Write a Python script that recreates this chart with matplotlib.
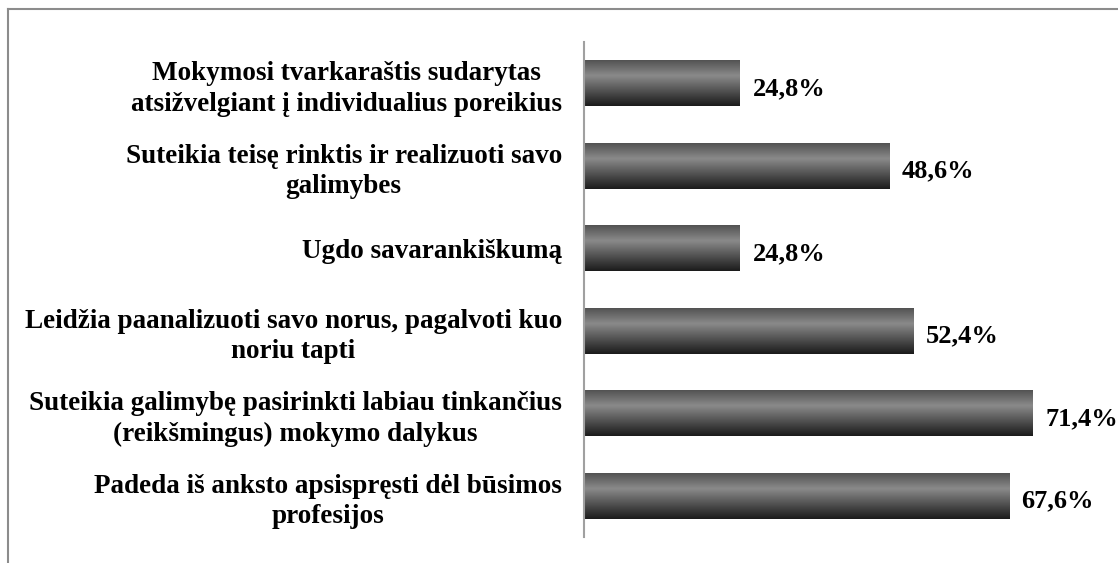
import numpy as np
import matplotlib
matplotlib.use("Agg")
import matplotlib.pyplot as plt
from matplotlib.colors import LinearSegmentedColormap
from matplotlib.lines import Line2D

# categories top -> bottom, values in percent
categories = [
    "Mokymosi tvarkaraštis sudarytas\natsižvelgiant į individualius poreikius",
    "Suteikia teisę rinktis ir realizuoti savo\ngalimybes",
    "Ugdo savarankiškumą",
    "Leidžia paanalizuoti savo norus, pagalvoti kuo\nnoriu tapti",
    "Suteikia galimybę pasirinkti labiau tinkančius\n(reikšmingus) mokymo dalykus",
    "Padeda iš anksto apsispręsti dėl būsimos\nprofesijos",
]
values = [24.8, 48.6, 24.8, 52.4, 71.4, 67.6]
value_labels = ["24,8%", "48,6%", "24,8%", "52,4%", "71,4%", "67,6%"]

plt.rcParams["font.family"] = ["Liberation Serif", "DejaVu Serif"]

W, H = 1118, 563
fig = plt.figure(figsize=(W / 100, H / 100), dpi=100)
ax = fig.add_axes([584 / W, 1 - 537 / H, 503 / W, 495 / H])

# vertical grey gradient like the original 3D-ish bars
bar_cmap = LinearSegmentedColormap.from_list(
    "bar", [(0.0, "#505050"), (0.35, "#8a8a8a"), (0.7, "#4e4e4e"), (1.0, "#1c1c1c")]
)
grad = np.linspace(0, 1, 64).reshape(-1, 1)

bar_h = 0.56
ypos = np.arange(len(categories))
bars = ax.barh(ypos, values, height=bar_h, color="none", edgecolor="none")
for rect, y, v in zip(bars, ypos, values):
    im = ax.imshow(grad, cmap=bar_cmap, aspect="auto", origin="upper",
                   extent=(0, v, y + bar_h / 2, y - bar_h / 2), interpolation="bilinear")
    im.set_clip_path(rect)

for y, v, lab in zip(ypos, values, value_labels):
    ax.annotate(lab, (v, y), xytext=(9, -4), textcoords="offset points",
                ha="left", va="center", fontsize=19, fontweight="bold")

ax.set_xlim(0, 80)
ax.set_ylim(len(categories) - 0.5, -0.5)
ax.set_yticks(ypos)
ax.set_yticklabels(categories, fontsize=19.5, fontweight="bold",
                   multialignment="center", linespacing=1.3)
ax.tick_params(axis="y", length=0, pad=16)
ax.set_xticks([])
for side in ["top", "right", "bottom"]:
    ax.spines[side].set_visible(False)
ax.spines["left"].set_color("#a0a0a0")
ax.spines["left"].set_linewidth(1.5)

# outer chart frame (only top and left edges visible)
fig.add_artist(Line2D([8 / W, 1], [1 - 9 / H, 1 - 9 / H], color="#8c8c8c", lw=1.5,
                      transform=fig.transFigure))
fig.add_artist(Line2D([8 / W, 8 / W], [0, 1 - 9 / H], color="#8c8c8c", lw=1.5,
                      transform=fig.transFigure))

fig.savefig("out.png", dpi=100)
